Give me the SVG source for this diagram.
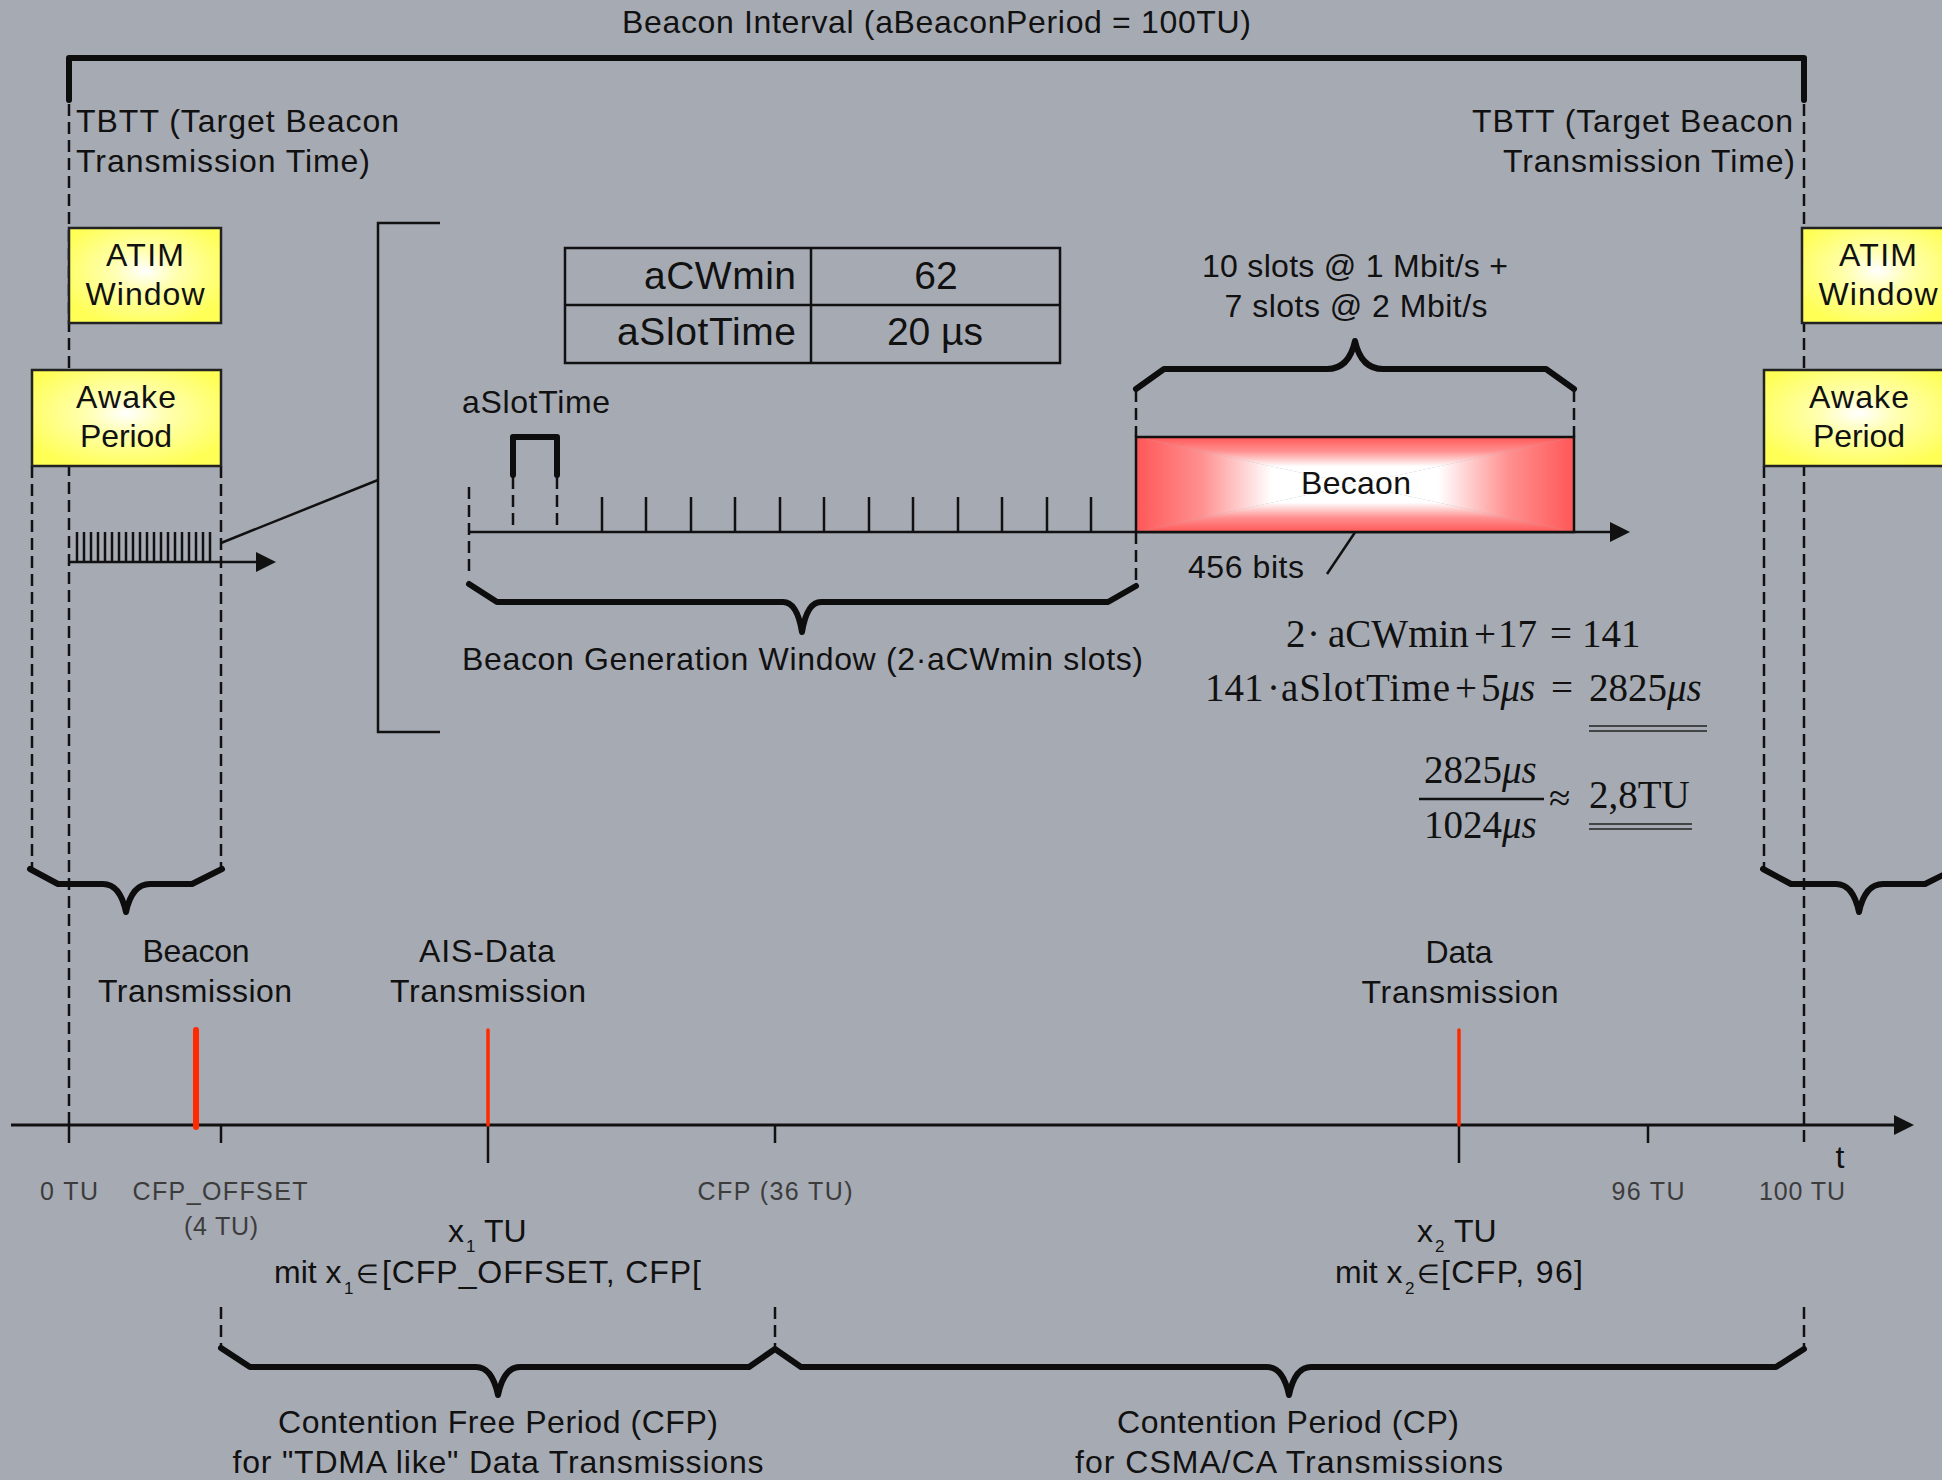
<svg xmlns="http://www.w3.org/2000/svg" width="1942" height="1480" viewBox="0 0 1942 1480">
<defs>
<style>
.t{font-family:"Liberation Sans",Arial,sans-serif;font-size:32px;fill:#111}
.c{text-anchor:middle}
.tb{font-size:39px}
.sub{font-size:17px}
.el{font-size:26px}
.tk{font-family:"Liberation Sans",Arial,sans-serif;font-size:25px;fill:#3c3c3c;text-anchor:middle}
.m{font-family:"Liberation Serif","Times New Roman",serif;font-size:39px;fill:#111}
.i{font-style:italic}
.ln{stroke:#111;stroke-width:2.5;fill:none}
.ax{stroke:#111;stroke-width:3;fill:none}
.thick{stroke:#0d0d0d;stroke-width:6;fill:none;stroke-linejoin:round;stroke-linecap:round}
.dash{stroke:#111;stroke-width:2.5;stroke-dasharray:12 6;fill:none}
.red{stroke:#ff2a00;stroke-linecap:round;fill:none}
.ybox{fill:url(#yg);stroke:#222;stroke-width:2.5}
.ul{stroke:#222;stroke-width:1.6}
</style>
<radialGradient id="yg" cx="0.5" cy="0.45" r="0.6">
<stop offset="0" stop-color="#ffffff"/>
<stop offset="0.35" stop-color="#ffffb0"/>
<stop offset="1" stop-color="#ffff55"/>
</radialGradient>
<linearGradient id="gL" gradientUnits="userSpaceOnUse" x1="1136" y1="0" x2="1355" y2="0">
<stop offset="0" stop-color="#ff5757"/><stop offset="0.3" stop-color="#ff9090"/><stop offset="0.62" stop-color="#ffffff"/><stop offset="1" stop-color="#ffffff"/>
</linearGradient>
<linearGradient id="gR" gradientUnits="userSpaceOnUse" x1="1574" y1="0" x2="1355" y2="0">
<stop offset="0" stop-color="#ff5757"/><stop offset="0.3" stop-color="#ff9090"/><stop offset="0.62" stop-color="#ffffff"/><stop offset="1" stop-color="#ffffff"/>
</linearGradient>
<linearGradient id="gT" gradientUnits="userSpaceOnUse" x1="0" y1="437" x2="0" y2="484.5">
<stop offset="0" stop-color="#ff5757"/><stop offset="0.3" stop-color="#ff9090"/><stop offset="0.62" stop-color="#ffffff"/><stop offset="1" stop-color="#ffffff"/>
</linearGradient>
<linearGradient id="gB" gradientUnits="userSpaceOnUse" x1="0" y1="532" x2="0" y2="484.5">
<stop offset="0" stop-color="#ff5757"/><stop offset="0.3" stop-color="#ff9090"/><stop offset="0.62" stop-color="#ffffff"/><stop offset="1" stop-color="#ffffff"/>
</linearGradient>
<marker id="ah" viewBox="0 0 20 20" refX="12" refY="10" markerWidth="20" markerHeight="20" markerUnits="userSpaceOnUse" orient="auto">
<path d="M0,0 L20,10 L0,20 z" fill="#111"/>
</marker>
</defs>
<rect x="0" y="0" width="1942" height="1480" fill="#a6aab3"/>

<g id="connectors">
<path class="thick" d="M69,100 L69,58 L1804,58 L1804,100" stroke-width="7" stroke-linecap="butt" stroke-linejoin="miter"/>
<line class="dash" x1="69" y1="104" x2="69" y2="1125"/>
<line class="dash" x1="32" y1="466" x2="32" y2="870"/>
<line class="dash" x1="221" y1="466" x2="221" y2="870"/>
<line class="dash" x1="1804" y1="104" x2="1804" y2="1145"/>
<line class="dash" x1="1764" y1="466" x2="1764" y2="870"/>
<line class="dash" x1="221" y1="1307" x2="221" y2="1347"/>
<line class="dash" x1="775" y1="1307" x2="775" y2="1347"/>
<line class="dash" x1="1804" y1="1307" x2="1804" y2="1347"/>
<line class="ln" x1="69" y1="562" x2="268" y2="562" marker-end="url(#ah)"/>
<path class="ln" stroke-width="2" d="M77,532V562 M84,532V562 M91,532V562 M98,532V562 M105,532V562 M112,532V562 M119,532V562 M126,532V562 M133,532V562 M140,532V562 M147,532V562 M154,532V562 M161,532V562 M168,532V562 M175,532V562 M182,532V562 M189,532V562 M196,532V562 M203,532V562 M210,532V562"/>
<line class="ln" x1="221" y1="543" x2="378" y2="480"/>
<path class="ln" d="M440,223 L378,223 L378,732 L440,732"/>
<line class="ln" x1="469" y1="532" x2="1622" y2="532" marker-end="url(#ah)"/>
<line class="dash" x1="469" y1="487" x2="469" y2="574"/>
<line class="dash" x1="513" y1="477" x2="513" y2="532"/>
<line class="dash" x1="557" y1="477" x2="557" y2="532"/>
<path class="ln" d="M602,497V532 M646,497V532 M691,497V532 M735,497V532 M780,497V532 M824,497V532 M869,497V532 M913,497V532 M958,497V532 M1002,497V532 M1047,497V532 M1091,497V532"/>
<path class="thick" stroke-width="5" d="M513,475 L513,437 L557,437 L557,475"/>
<line class="dash" x1="1136" y1="390" x2="1136" y2="437"/>
<line class="dash" x1="1136" y1="532" x2="1136" y2="588"/>
<line class="dash" x1="1574" y1="390" x2="1574" y2="437"/>
<path class="thick" d="M469,584 L497,602 L783,602 Q797,602 802,632 Q807,602 821,602 L1108,602 L1136,586"/>
<path class="thick" d="M1136,389 L1164,369 L1327,369 Q1349,369 1355,341 Q1361,369 1383,369 L1546,369 L1574,389"/>
<path class="thick" d="M30,869 L58,884 L103,884 Q120,884 126,912 Q132,884 150,884 L192,884 L222,869"/>
<path class="thick" d="M1763,869 L1791,884 L1836,884 Q1853,884 1859,912 Q1865,884 1883,884 L1925,884 L1955,869"/>
<path class="thick" d="M221,1348 L250,1367 L476,1367 Q492,1367 498,1395 Q504,1367 520,1367 L749,1367 L775,1349 L801,1367 L1267,1367 Q1283,1367 1289,1395 Q1295,1367 1311,1367 L1776,1367 L1804,1349"/>
<line class="ln" x1="1327" y1="574" x2="1366" y2="516"/>
<line class="ax" x1="11" y1="1125" x2="1906" y2="1125" marker-end="url(#ah)"/>
<path class="ln" d="M69,1125V1143 M221,1125V1143 M488,1125V1163 M775,1125V1143 M1459,1125V1163 M1648,1125V1143"/>
<line class="red" x1="196" y1="1030" x2="196" y2="1127" stroke-width="6"/>
<line class="red" x1="488" y1="1030" x2="488" y2="1125" stroke-width="3.5"/>
<line class="red" x1="1459" y1="1030" x2="1459" y2="1125" stroke-width="3.5"/>
<line class="ul" x1="1589" y1="726" x2="1707" y2="726"/>
<line class="ul" x1="1589" y1="731" x2="1707" y2="731"/>
<line class="ln" stroke-width="2" x1="1419" y1="799" x2="1544" y2="799"/>
<line class="ul" x1="1589" y1="824" x2="1692" y2="824"/>
<line class="ul" x1="1589" y1="829" x2="1692" y2="829"/>
</g>

<g id="title"><text class="t" x="622" y="33" textLength="629" lengthAdjust="spacing">Beacon Interval (aBeaconPeriod = 100TU)</text></g>

<g id="tbtt-left">
<text class="t" x="76" y="132" textLength="323" lengthAdjust="spacing">TBTT (Target Beacon</text>
<text class="t" x="76" y="172" textLength="294" lengthAdjust="spacing">Transmission Time)</text>
</g>
<g id="tbtt-right">
<text class="t" x="1472" y="132" textLength="321" lengthAdjust="spacing">TBTT (Target Beacon</text>
<text class="t" x="1503" y="172" textLength="292" lengthAdjust="spacing">Transmission Time)</text>
</g>

<g id="atim-left">
<rect class="ybox" x="69" y="228" width="152" height="95"/>
<text class="t c" x="145" y="266" textLength="78" lengthAdjust="spacing">ATIM</text>
<text class="t c" x="145" y="305" textLength="119" lengthAdjust="spacing">Window</text>
</g>
<g id="awake-left">
<rect class="ybox" x="32" y="370" width="189" height="96"/>
<text class="t c" x="126" y="408" textLength="100" lengthAdjust="spacing">Awake</text>
<text class="t c" x="126" y="447" textLength="92" lengthAdjust="spacing">Period</text>
</g>
<g id="atim-right">
<rect class="ybox" x="1802" y="228" width="152" height="95"/>
<text class="t c" x="1878" y="266" textLength="78" lengthAdjust="spacing">ATIM</text>
<text class="t c" x="1878" y="305" textLength="119" lengthAdjust="spacing">Window</text>
</g>
<g id="awake-right">
<rect class="ybox" x="1764" y="370" width="189" height="96"/>
<text class="t c" x="1859" y="408" textLength="100" lengthAdjust="spacing">Awake</text>
<text class="t c" x="1859" y="447" textLength="92" lengthAdjust="spacing">Period</text>
</g>

<g id="param-table">
<rect x="565" y="248" width="495" height="115" fill="none" stroke="#111" stroke-width="2.5"/>
<line x1="565" y1="305" x2="1060" y2="305" stroke="#111" stroke-width="2.5"/>
<line x1="811" y1="248" x2="811" y2="363" stroke="#111" stroke-width="2.5"/>
<text class="t tb" x="644" y="289" textLength="152" lengthAdjust="spacing">aCWmin</text>
<text class="t tb" x="617" y="345" textLength="179" lengthAdjust="spacing">aSlotTime</text>
<text class="t tb c" x="936" y="289">62</text>
<text class="t tb c" x="935" y="345">20 µs</text>
</g>

<g id="slot-label"><text class="t" x="462" y="413" textLength="148" lengthAdjust="spacing">aSlotTime</text></g>
<g id="bgw-label"><text class="t" x="462" y="670" textLength="681" lengthAdjust="spacing">Beacon Generation Window (2·aCWmin slots)</text></g>

<g id="slots-label">
<text class="t c" x="1355" y="277" textLength="306" lengthAdjust="spacing">10 slots @ 1 Mbit/s +</text>
<text class="t c" x="1356" y="317" textLength="263" lengthAdjust="spacing">7 slots @ 2 Mbit/s</text>
</g>

<g id="beacon-frame">
<polygon points="1136,437 1136,532 1355,484.5" fill="url(#gL)"/>
<polygon points="1574,437 1574,532 1355,484.5" fill="url(#gR)"/>
<polygon points="1136,437 1574,437 1355,484.5" fill="url(#gT)"/>
<polygon points="1136,532 1574,532 1355,484.5" fill="url(#gB)"/>
<rect x="1136" y="437" width="438" height="95" fill="none" stroke="#111" stroke-width="2.5"/>
<text class="t c" x="1356" y="494" textLength="110" lengthAdjust="spacing">Becaon</text>
</g>
<g id="bits-label"><text class="t" x="1188" y="578" textLength="116" lengthAdjust="spacing">456 bits</text></g>

<g id="formulas">
<text class="m" x="1286" y="647">2</text>
<text class="m" x="1307" y="647">·</text>
<text class="m" x="1328" y="647">aCWmin</text>
<text class="m" x="1474" y="647">+</text>
<text class="m" x="1498" y="647">17</text>
<text class="m" x="1550" y="647">=</text>
<text class="m" x="1582" y="647">141</text>

<text class="m" x="1205" y="701">141</text>
<text class="m" x="1267" y="701">·</text>
<text class="m" x="1281" y="701" textLength="169" lengthAdjust="spacing">aSlotTime</text>
<text class="m" x="1455" y="701">+</text>
<text class="m" x="1481" y="701">5<tspan class="i">μs</tspan></text>
<text class="m" x="1551" y="701">=</text>
<text class="m" x="1589" y="701">2825<tspan class="i">μs</tspan></text>

<text class="m" x="1424" y="783">2825<tspan class="i">μs</tspan></text>
<text class="m" x="1424" y="838">1024<tspan class="i">μs</tspan></text>
<text class="m" x="1549" y="811">≈</text>
<text class="m" x="1589" y="808">2,8TU</text>
</g>

<g id="beacon-tx-label">
<text class="t c" x="196" y="962" textLength="107" lengthAdjust="spacing">Beacon</text>
<text class="t c" x="195" y="1002" textLength="194" lengthAdjust="spacing">Transmission</text>
</g>
<g id="ais-tx-label">
<text class="t c" x="487" y="962" textLength="136" lengthAdjust="spacing">AIS-Data</text>
<text class="t c" x="488" y="1002" textLength="196" lengthAdjust="spacing">Transmission</text>
</g>
<g id="data-tx-label">
<text class="t c" x="1459" y="963" textLength="67" lengthAdjust="spacing">Data</text>
<text class="t c" x="1460" y="1003" textLength="197" lengthAdjust="spacing">Transmission</text>
</g>

<g id="tick-labels">
<text class="tk" x="69" y="1200" textLength="58" lengthAdjust="spacing">0 TU</text>
<text class="tk" x="220" y="1200" textLength="175" lengthAdjust="spacing">CFP_OFFSET</text>
<text class="tk" x="221" y="1235" textLength="74" lengthAdjust="spacing">(4 TU)</text>
<text class="tk" x="775" y="1200" textLength="155" lengthAdjust="spacing">CFP (36 TU)</text>
<text class="tk" x="1648" y="1200" textLength="73" lengthAdjust="spacing">96 TU</text>
<text class="tk" x="1802" y="1200" textLength="86" lengthAdjust="spacing">100 TU</text>
<text class="t c" x="1840" y="1168">t</text>
</g>

<g id="x1-label">
<text class="t" x="448" y="1242">x</text>
<text class="t sub" x="466" y="1252">1</text>
<text class="t" x="484" y="1242">TU</text>
<text class="t" x="274" y="1283">mit x</text>
<text class="t sub" x="344" y="1294">1</text>
<text class="t el" x="356" y="1283">∈</text>
<text class="t" x="382" y="1283" textLength="319" lengthAdjust="spacing">[CFP_OFFSET, CFP[</text>
</g>
<g id="x2-label">
<text class="t" x="1417" y="1242">x</text>
<text class="t sub" x="1435" y="1252">2</text>
<text class="t" x="1454" y="1242">TU</text>
<text class="t" x="1335" y="1283">mit x</text>
<text class="t sub" x="1405" y="1294">2</text>
<text class="t el" x="1417" y="1283">∈</text>
<text class="t" x="1441" y="1283" textLength="142" lengthAdjust="spacing">[CFP, 96]</text>
</g>

<g id="cfp-label">
<text class="t c" x="498" y="1433" textLength="440" lengthAdjust="spacing">Contention Free Period (CFP)</text>
<text class="t c" x="498" y="1473" textLength="531" lengthAdjust="spacing">for "TDMA like" Data Transmissions</text>
</g>
<g id="cp-label">
<text class="t c" x="1288" y="1433" textLength="342" lengthAdjust="spacing">Contention Period (CP)</text>
<text class="t c" x="1289" y="1473" textLength="428" lengthAdjust="spacing">for CSMA/CA Transmissions</text>
</g>
</svg>
